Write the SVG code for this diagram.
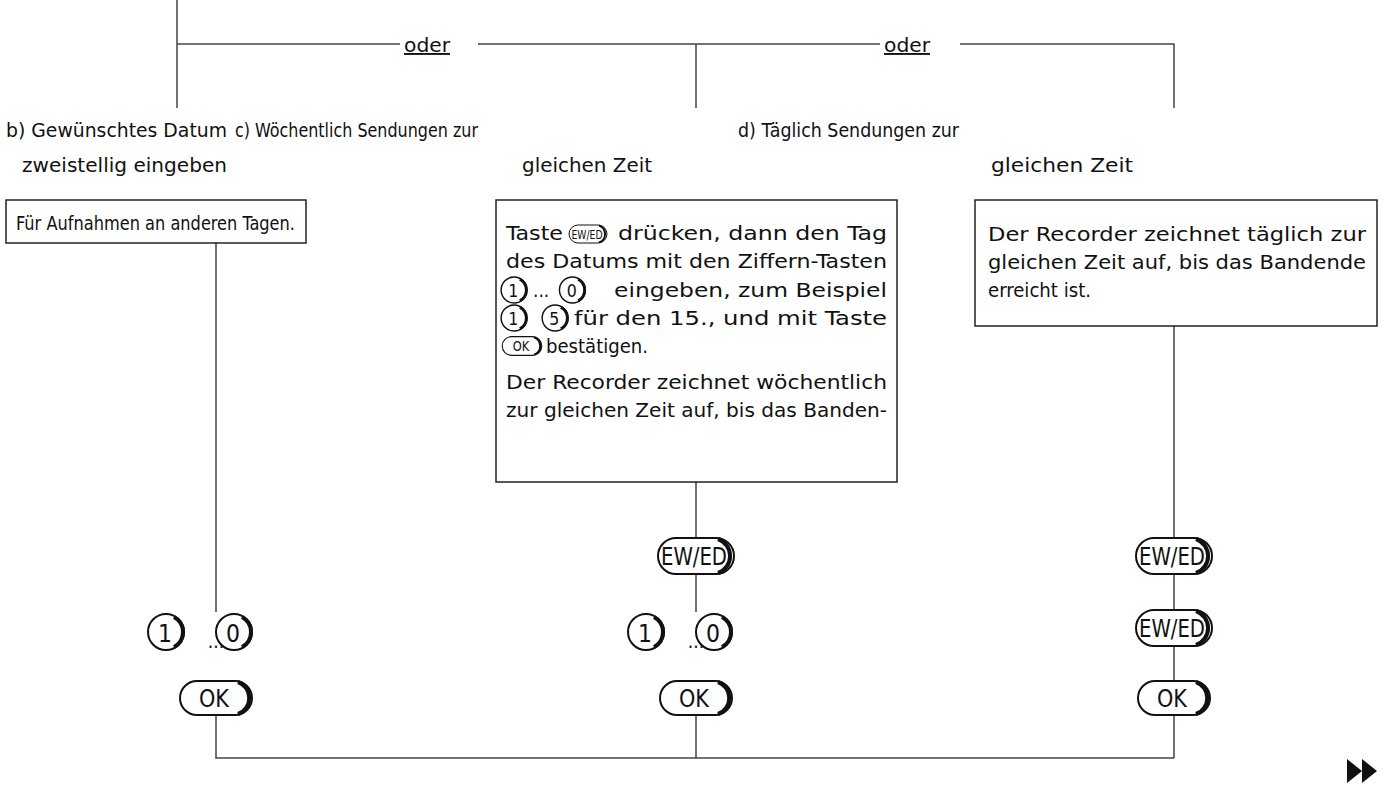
<svg xmlns="http://www.w3.org/2000/svg" width="1384" height="789" viewBox="0 0 1384 789">
<style>
text{font-family:"DejaVu Sans Condensed","Liberation Sans",Arial,sans-serif;font-size:19px;fill:#111}
.ln{stroke:#444;stroke-width:1.5;fill:none}
.bx{fill:#fff;stroke:#222;stroke-width:1.5}
.pl{fill:#fff;stroke:#111;stroke-width:2}
.sh{fill:none;stroke:#111;stroke-width:4}
.bt{font-size:24px;text-anchor:middle}
</style>
<defs>
<g id="ok"><rect class="pl" x="-36" y="-17" width="72" height="34" rx="17"/><path class="sh" d="M22,-16 A17,17 0 0 1 22,16"/><text class="bt" x="-2" y="9" textLength="30" lengthAdjust="spacingAndGlyphs">OK</text></g>
<g id="ew"><rect class="pl" x="-38" y="-18" width="76" height="36" rx="18"/><path class="sh" d="M22,-17 A18,18 0 0 1 22,17"/><text class="bt" x="-2" y="9" textLength="66" lengthAdjust="spacingAndGlyphs">EW/ED</text></g>
<g id="c1"><circle r="18" fill="#fff" stroke="#111" stroke-width="2"/><path class="sh" d="M8,-15 A17,17 0 0 1 8,15" stroke-width="3"/><text class="bt" x="-1" y="10" font-size="28" textLength="14" lengthAdjust="spacingAndGlyphs">1</text></g>
<g id="c0"><circle r="18" fill="#fff" stroke="#111" stroke-width="2"/><path class="sh" d="M8,-15 A17,17 0 0 1 8,15" stroke-width="3"/><text class="bt" x="-1" y="10" font-size="28" textLength="14" lengthAdjust="spacingAndGlyphs">0</text></g>
<g id="c5"><circle r="18" fill="#fff" stroke="#111" stroke-width="2"/><path class="sh" d="M8,-15 A17,17 0 0 1 8,15" stroke-width="3"/><text class="bt" x="-1" y="10" font-size="28" textLength="14" lengthAdjust="spacingAndGlyphs">5</text></g>
<g id="keys"><use href="#c1" x="-50"/><text x="0" y="16" font-size="26" text-anchor="middle">...</text><use href="#c0" x="18"/></g>
</defs>
<g id="connectors">
<path class="ln" d="M177,0V108M177,44H400M478,44H880M960,44H1174V108M696,44V108"/>
<path class="ln" d="M216,243V612M216,716V758H1174M696,482V538M696,574V612M696,716V758M1174,326V538M1174,574V610M1174,646V680M1174,716V758"/>
</g>
<g id="oder"><text x="404" y="52" text-decoration="underline" textLength="46" lengthAdjust="spacingAndGlyphs">oder</text><text x="884" y="52" text-decoration="underline" textLength="46" lengthAdjust="spacingAndGlyphs">oder</text></g>
<g id="labels">
<text x="6" y="137" textLength="221" lengthAdjust="spacingAndGlyphs">b) Gewünschtes Datum</text><text x="22" y="172" textLength="205" lengthAdjust="spacingAndGlyphs">zweistellig eingeben</text>
<text x="235" y="137" textLength="243" lengthAdjust="spacingAndGlyphs">c) Wöchentlich Sendungen zur</text><text x="522" y="172" textLength="130" lengthAdjust="spacingAndGlyphs">gleichen Zeit</text>
<text x="738" y="137" textLength="221" lengthAdjust="spacingAndGlyphs">d) Täglich Sendungen zur</text><text x="991" y="172" textLength="142" lengthAdjust="spacingAndGlyphs">gleichen Zeit</text>
</g>
<g id="box-b"><rect class="bx" x="6" y="200" width="300" height="43"/><text x="16" y="230" textLength="279" lengthAdjust="spacingAndGlyphs">Für Aufnahmen an anderen Tagen.</text></g>
<g id="box-c"><rect class="bx" x="496" y="200" width="401" height="282"/>
<text x="506" y="240" textLength="57" lengthAdjust="spacingAndGlyphs">Taste</text>
<g transform="translate(588,234) scale(0.5)"><rect class="pl" x="-38" y="-18" width="76" height="36" rx="18"/><path class="sh" d="M22,-17 A18,18 0 0 1 22,17"/><text class="bt" x="-2" y="9" textLength="62" lengthAdjust="spacingAndGlyphs">EW/ED</text></g>
<text x="618" y="240" textLength="269" lengthAdjust="spacingAndGlyphs">drücken, dann den Tag</text>
<text x="506" y="268" textLength="381" lengthAdjust="spacingAndGlyphs">des Datums mit den Ziffern-Tasten</text>
<g transform="translate(0,290) scale(0.72)"><use href="#c1" x="714"/><use href="#c0" x="795"/></g>
<text x="533" y="297">...</text>
<text x="614" y="297" textLength="273" lengthAdjust="spacingAndGlyphs">eingeben,   zum   Beispiel</text>
<g transform="translate(0,318) scale(0.72)"><use href="#c1" x="714"/><use href="#c5" x="771"/></g>
<text x="574" y="325" textLength="313" lengthAdjust="spacingAndGlyphs">für den 15., und mit Taste</text>
<g transform="translate(522,346) scale(0.55)"><use href="#ok"/></g>
<text x="546" y="353" textLength="102" lengthAdjust="spacingAndGlyphs">bestätigen.</text>
<text x="506" y="389" textLength="381" lengthAdjust="spacingAndGlyphs">Der Recorder zeichnet wöchentlich</text>
<text x="506" y="417" textLength="381" lengthAdjust="spacingAndGlyphs">zur gleichen Zeit auf, bis das Banden-</text>
</g>
<g id="box-d"><rect class="bx" x="975" y="200" width="402" height="126"/>
<text x="988" y="241" textLength="378" lengthAdjust="spacingAndGlyphs">Der Recorder zeichnet täglich zur</text>
<text x="988" y="269" textLength="378" lengthAdjust="spacingAndGlyphs">gleichen Zeit auf, bis das Bandende</text>
<text x="988" y="297" textLength="103" lengthAdjust="spacingAndGlyphs">erreicht ist.</text>
</g>
<g id="col-b"><use href="#keys" x="216" y="632"/><use href="#ok" x="216" y="698"/></g>
<g id="col-c"><use href="#ew" x="696" y="556"/><use href="#keys" x="696" y="632"/><use href="#ok" x="696" y="698"/></g>
<g id="col-d"><use href="#ew" x="1174" y="556"/><use href="#ew" x="1174" y="628"/><use href="#ok" x="1174" y="698"/></g>
<g id="next"><path d="M1347,759L1362,771L1347,783ZM1362,759L1377,771L1362,783Z" fill="#111"/></g>
</svg>
